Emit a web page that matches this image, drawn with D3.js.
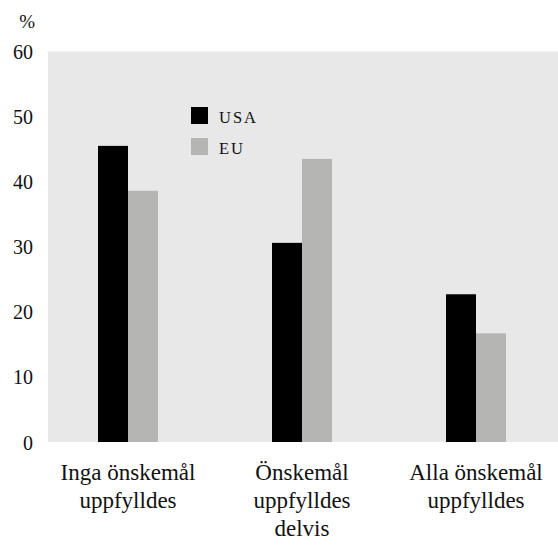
<!DOCTYPE html>
<html><head><meta charset="utf-8">
<script src="https://cdn.jsdelivr.net/npm/d3@7"></script>
<style>body{margin:0;background:#fff}svg{display:block}</style>
</head><body>
<script>
const categories = [["Inga önskemål","uppfylldes"],["Önskemål","uppfylldes","delvis"],["Alla önskemål","uppfylldes"]];
const seriesNames = ["USA","EU"];
const usa = [45.5, 30.6, 22.7];
const eu = [38.6, 43.5, 16.7];
const yTicks = [0,10,20,30,40,50,60];
const colors = ["#000000","#b5b5b3"];

const FONT='"Liberation Serif"';
const W=558,H=545;
const svg=d3.select("body").append("svg").attr("width",W).attr("height",H);
const plot={x0:48,x1:558,y0:51.5,y1:442};
const y=d3.scaleLinear().domain([0,60]).range([plot.y1,plot.y0]);
const x=d3.scaleBand().domain(d3.range(categories.length)).range([41,563]);
const xs=d3.scaleBand().domain(seriesNames).range([0,60]);

svg.append("rect").attr("x",plot.x0).attr("y",plot.y0).attr("width",plot.x1-plot.x0).attr("height",plot.y1-plot.y0).attr("fill","#e8e8e8");

const data=[usa,eu];
seriesNames.forEach((s,si)=>{
  svg.append("g").selectAll("rect").data(data[si]).join("rect")
    .attr("x",(d,i)=>x(i)+x.bandwidth()/2-30+xs(s))
    .attr("width",xs.bandwidth())
    .attr("y",d=>y(d)).attr("height",d=>y(0)-y(d))
    .attr("fill",colors[si]);
});

// y axis
const ya=svg.append("g").attr("transform","translate(33,0)").call(d3.axisLeft(y).tickValues(yTicks).tickSize(0).tickPadding(0));
ya.select(".domain").remove();
ya.attr("font-family",null);
ya.selectAll("text").style("font-family",FONT).style("font-size","20px").attr("fill","#111").attr("dy","0.35em");

svg.append("text").attr("x",35).attr("y",28).attr("text-anchor","end").style("font-family",FONT).style("font-size","19px").attr("fill","#111").text("%");

// x labels
const xl=svg.append("g");
categories.forEach((lines,i)=>{
  const t=xl.append("text").attr("text-anchor","middle").style("font-family",FONT).style("font-size","23px").attr("fill","#111");
  lines.forEach((l,j)=>t.append("tspan").attr("x",x(i)+x.bandwidth()/2).attr("y",480+j*28).text(l));
});

// legend
const lg=svg.append("g");
seriesNames.forEach((s,i)=>{
  lg.append("rect").attr("x",191).attr("y",107+i*31).attr("width",17).attr("height",17).attr("fill",colors[i]);
  lg.append("text").attr("x",219).attr("y",123+i*31).style("font-family",FONT).style("font-size","16.5px").style("letter-spacing","2px").attr("fill","#111").text(s);
});
</script>
</body></html>
